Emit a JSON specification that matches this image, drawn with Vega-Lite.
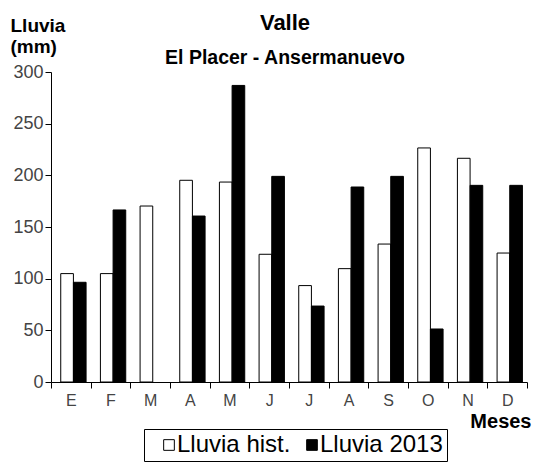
{
  "$schema": "https://vega.github.io/schema/vega-lite/v6.json",
  "width": 476,
  "height": 310,
  "autosize": {"type": "none"},
  "padding": {"left": 51, "top": 72, "right": 9, "bottom": 80},
  "background": "white",
  "title": {
    "text": "Valle",
    "subtitle": "El Placer - Ansermanuevo",
    "frame": "group",
    "anchor": "middle",
    "dx": -4,
    "offset": -52,
    "font": "Liberation Sans",
    "fontSize": 22,
    "fontWeight": "bold",
    "color": "black",
    "subtitleFont": "Liberation Sans",
    "subtitleFontSize": 19.5,
    "subtitleFontWeight": "bold",
    "subtitleColor": "black",
    "subtitlePadding": 14
  },
  "data": {
    "values": [
      {"mes": "Ene", "serie": "Lluvia hist.", "lluvia": 104.9},
      {"mes": "Ene", "serie": "Lluvia 2013", "lluvia": 96.5},
      {"mes": "Feb", "serie": "Lluvia hist.", "lluvia": 104.9},
      {"mes": "Feb", "serie": "Lluvia 2013", "lluvia": 166.5},
      {"mes": "Mar", "serie": "Lluvia hist.", "lluvia": 170.3},
      {"mes": "Abr", "serie": "Lluvia hist.", "lluvia": 195.2},
      {"mes": "Abr", "serie": "Lluvia 2013", "lluvia": 160.6},
      {"mes": "May", "serie": "Lluvia hist.", "lluvia": 193.5},
      {"mes": "May", "serie": "Lluvia 2013", "lluvia": 287},
      {"mes": "Jun", "serie": "Lluvia hist.", "lluvia": 123.6},
      {"mes": "Jun", "serie": "Lluvia 2013", "lluvia": 199},
      {"mes": "Jul", "serie": "Lluvia hist.", "lluvia": 93.3},
      {"mes": "Jul", "serie": "Lluvia 2013", "lluvia": 73.5},
      {"mes": "Ago", "serie": "Lluvia hist.", "lluvia": 109.7},
      {"mes": "Ago", "serie": "Lluvia 2013", "lluvia": 188.7},
      {"mes": "Sep", "serie": "Lluvia hist.", "lluvia": 133.5},
      {"mes": "Sep", "serie": "Lluvia 2013", "lluvia": 199},
      {"mes": "Oct", "serie": "Lluvia hist.", "lluvia": 226.5},
      {"mes": "Oct", "serie": "Lluvia 2013", "lluvia": 51.3},
      {"mes": "Nov", "serie": "Lluvia hist.", "lluvia": 216.5},
      {"mes": "Nov", "serie": "Lluvia 2013", "lluvia": 190.3},
      {"mes": "Dic", "serie": "Lluvia hist.", "lluvia": 124.8},
      {"mes": "Dic", "serie": "Lluvia 2013", "lluvia": 190.3}
    ]
  },
  "mark": {"type": "bar", "stroke": "black", "strokeWidth": 1},
  "encoding": {
    "x": {
      "field": "mes",
      "type": "nominal",
      "sort": ["Ene", "Feb", "Mar", "Abr", "May", "Jun", "Jul", "Ago", "Sep", "Oct", "Nov", "Dic"],
      "scale": {"paddingInner": 0, "paddingOuter": 0},
      "axis": {
        "title": "Meses",
        "titleFont": "Liberation Sans",
        "titleFontSize": 20,
        "titleFontWeight": "bold",
        "titleColor": "black",
        "titleAlign": "right",
        "titleAnchor": null,
        "titleBaseline": "alphabetic",
        "titleX": 480,
        "titleY": 45,
        "labelExpr": "substring(datum.label, 0, 1)",
        "labelAngle": 0,
        "labelFont": "Liberation Sans",
        "labelFontSize": 16,
        "labelColor": "#444444",
        "labelPadding": 4,
        "tickBand": "extent",
        "tickSize": 6,
        "tickColor": "black",
        "domainColor": "black",
        "domainWidth": 1,
        "tickWidth": 1
      }
    },
    "xOffset": {
      "field": "serie",
      "type": "nominal",
      "sort": ["Lluvia hist.", "Lluvia 2013"],
      "scale": {"domain": ["Lluvia hist.", "Lluvia 2013"], "paddingInner": 0, "paddingOuter": 0.566, "align": 0.68}
    },
    "y": {
      "field": "lluvia",
      "type": "quantitative",
      "scale": {"domain": [0, 300], "nice": false},
      "axis": {
        "title": ["Lluvia", "(mm)"],
        "titleFont": "Liberation Sans",
        "titleFontSize": 19,
        "titleFontWeight": "bold",
        "titleColor": "black",
        "titleAngle": 0,
        "titleAlign": "left",
        "titleAnchor": null,
        "titleBaseline": "alphabetic",
        "titleLineHeight": 21,
        "titleX": -41,
        "titleY": -41,
        "values": [0, 50, 100, 150, 200, 250, 300],
        "grid": false,
        "labelFont": "Liberation Sans",
        "labelFontSize": 18,
        "labelColor": "#444444",
        "labelPadding": 2,
        "tickSize": 6,
        "tickColor": "black",
        "domainColor": "black",
        "tickWidth": 1
      }
    },
    "fill": {
      "field": "serie",
      "type": "nominal",
      "sort": ["Lluvia hist.", "Lluvia 2013"],
      "scale": {"domain": ["Lluvia hist.", "Lluvia 2013"], "range": ["white", "black"]},
      "legend": {
        "title": null,
        "orient": "none",
        "direction": "horizontal",
        "legendX": 93,
        "legendY": 357,
        "strokeColor": "black",
        "fillColor": "white",
        "padding": 4,
        "symbolOffset": 9,
        "symbolType": "square",
        "symbolSize": 114,
        "symbolStrokeColor": "black",
        "symbolStrokeWidth": 1,
        "labelFont": "Liberation Sans",
        "labelFontSize": 24,
        "labelColor": "black",
        "labelOffset": -4,
        "columnPadding": 0,
        "labelLimit": 300
      }
    }
  },
  "config": {
    "view": {"stroke": null}
  }
}
